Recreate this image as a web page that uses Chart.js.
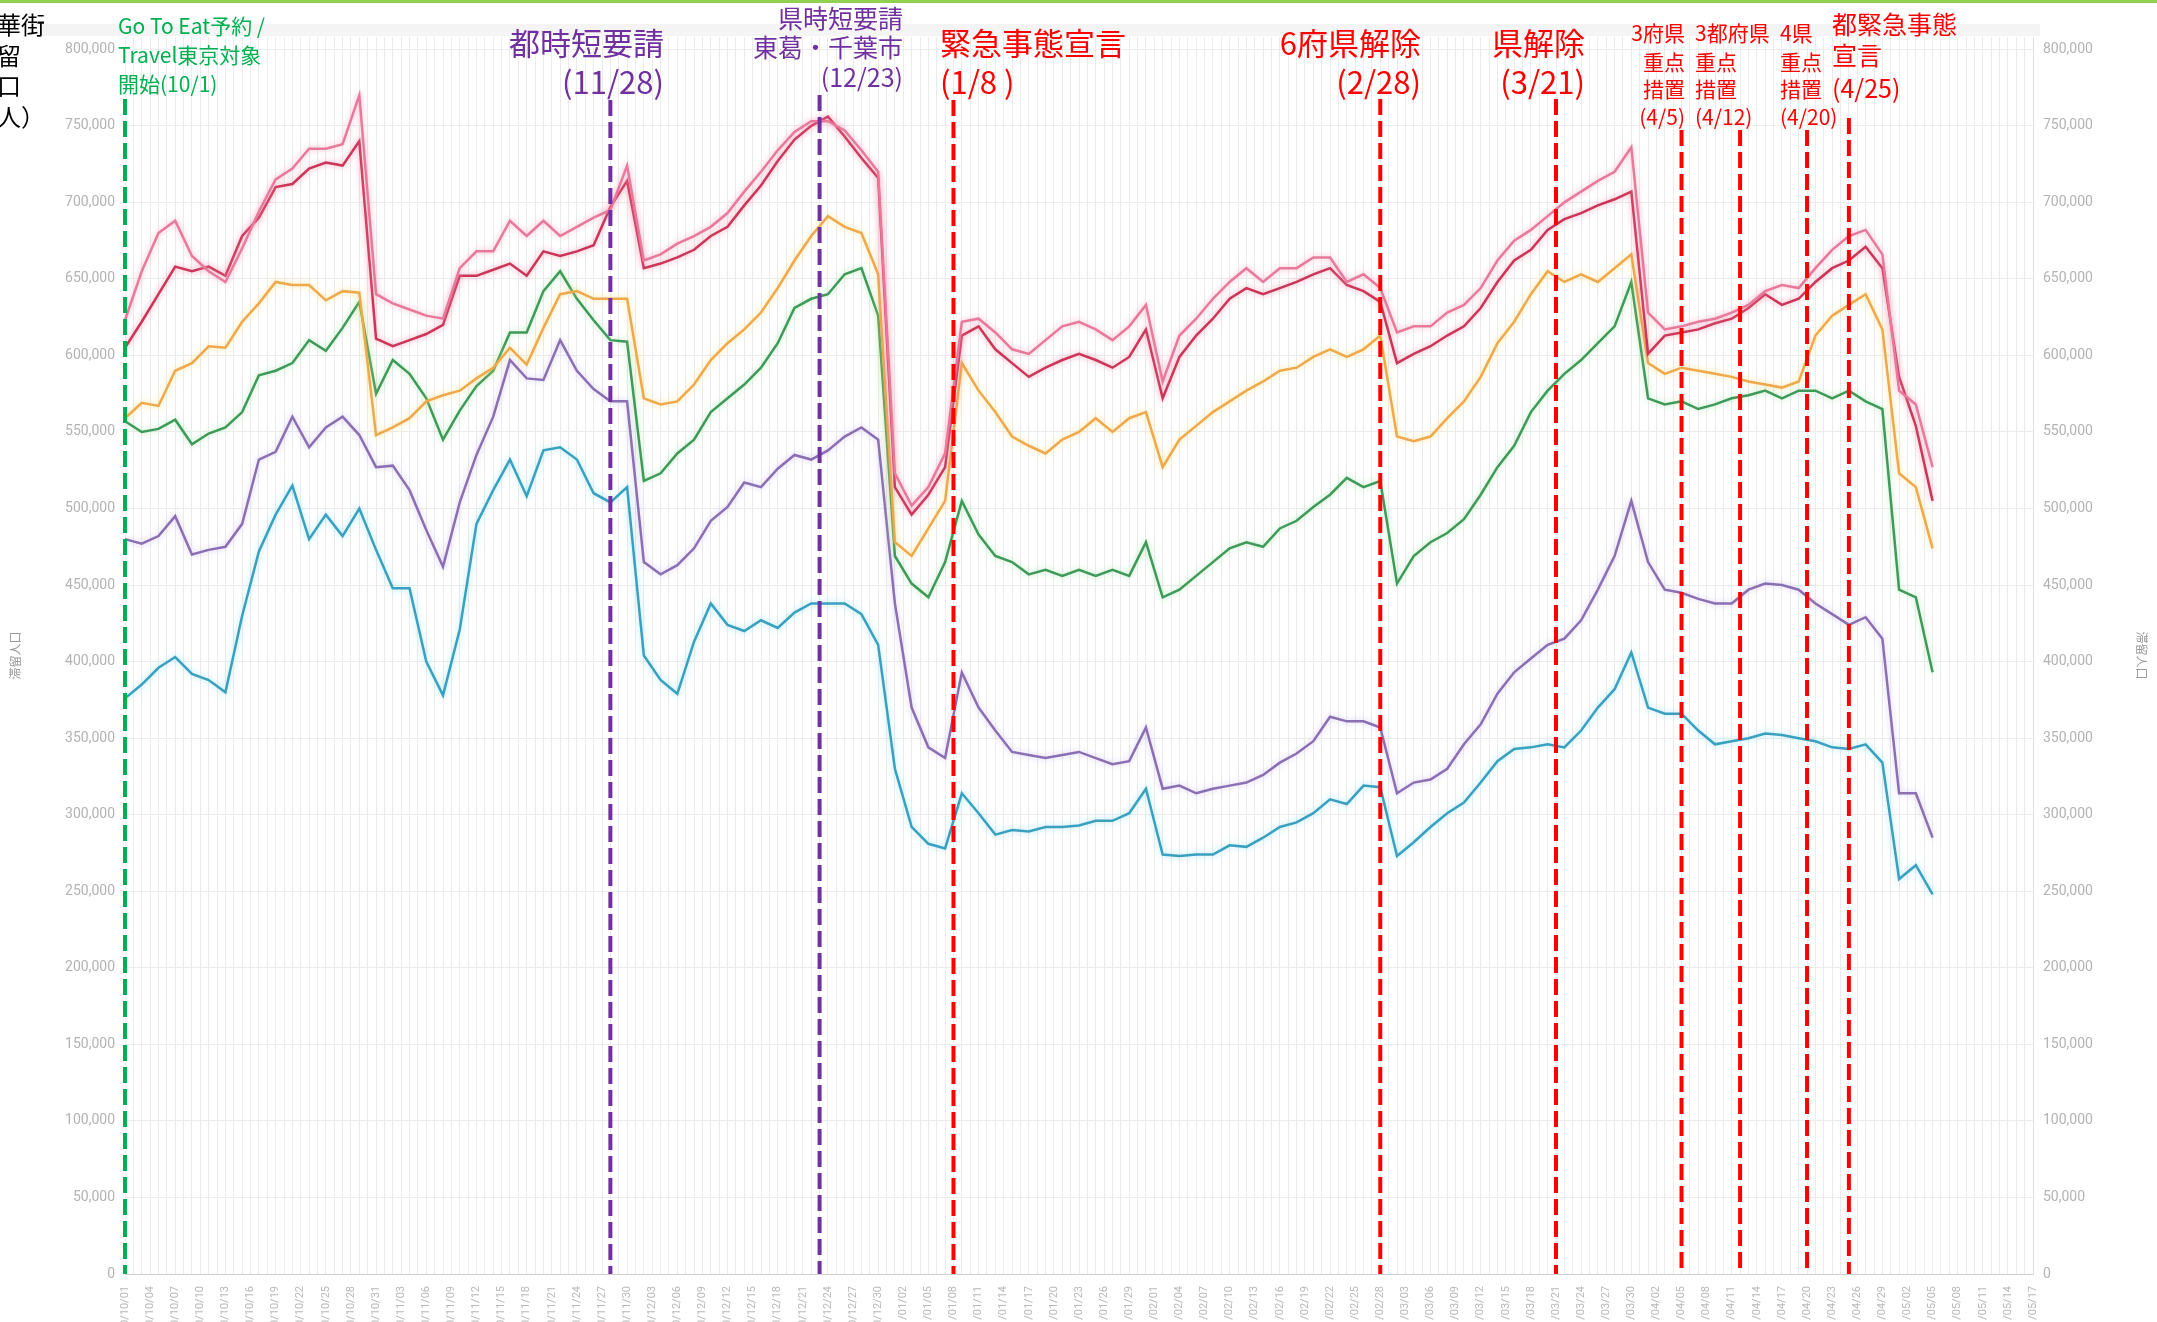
<!DOCTYPE html>
<html lang="ja">
<head>
<meta charset="UTF-8">
<title>中華街 滞留人口</title>
<script src="https://cdn.jsdelivr.net/npm/chart.js"></script>
<style>
  html, body { margin: 0; padding: 0; background: #fff; overflow: hidden; }
  canvas { display: block; }
</style>
</head>
<body>
<canvas id="myChart" width="2157" height="1322"></canvas>
<script>
// 日付ラベル 2020/10/01 〜 2021/05/17
const labels = [];
for (let d = new Date(Date.UTC(2020, 9, 1)); d <= new Date(Date.UTC(2021, 4, 17)); d.setUTCDate(d.getUTCDate() + 1)) {
  const mm = String(d.getUTCMonth() + 1).padStart(2, '0');
  const dd = String(d.getUTCDate()).padStart(2, '0');
  labels.push(d.getUTCFullYear() + '/' + mm + '/' + dd);
}
// 読み取りは2日おき（10/1 〜 5/5）
const sampleDates = labels.filter((_, i) => i % 2 === 0 && i <= 216);

// 目盛り（人）
const yTickValues = [0, 50000, 100000, 150000, 200000, 250000, 300000, 350000, 400000, 450000, 500000, 550000, 600000, 650000, 700000, 750000, 800000];

// 滞留人口（千人）
const pink = [623,655,680,688,665,655,648,670,694,715,722,735,735,738,770,640,634,630,626,624,657,668,668,688,678,688,678,684,690,695,724,
  662,666,673,678,684,693,707,720,734,746,753,753,747,734,720,523,502,514,536,622,624,615,604,601,610,619,622,617,610,619,633,583,613,624,637,648,657,648,657,657,664,664,648,653,644,615,619,619,628,633,644,662,675,682,691,700,707,714,720,736,628,617,619,622,624,628,633,642,646,644,657,669,678,682,666,577,568,527];
const red = [605,622,640,658,655,658,652,678,690,710,712,722,726,724,740,611,606,610,614,620,652,652,656,660,652,668,665,668,672,697,714,
  657,660,664,669,678,684,698,711,727,741,750,756,743,729,716,514,496,509,527,613,619,604,595,586,592,597,601,597,592,599,617,572,599,613,624,637,644,640,644,648,653,657,646,642,635,595,601,606,613,619,631,648,662,669,682,689,693,698,702,707,601,613,615,617,621,624,631,640,633,637,648,657,662,671,657,586,554,505];
const orange = [559,569,567,590,595,606,605,622,634,648,646,646,636,642,641,548,553,559,570,574,577,585,592,605,594,618,640,642,637,637,637,
  572,568,570,581,597,608,617,628,644,662,678,691,684,680,653,478,469,487,505,595,577,563,547,541,536,545,550,559,550,559,563,527,545,554,563,570,577,583,590,592,599,604,599,604,613,547,544,547,559,570,586,608,622,640,655,648,653,648,657,666,595,588,592,590,588,586,583,581,579,583,613,626,633,640,617,523,514,474];
const green = [557,550,552,558,542,549,553,563,587,590,595,610,603,618,635,575,597,588,572,545,564,580,590,615,615,642,655,637,623,610,609,
  518,523,536,545,563,572,581,592,608,631,637,640,653,657,626,469,451,442,465,505,483,469,465,457,460,456,460,456,460,456,478,442,447,456,465,474,478,475,487,492,501,509,520,514,518,451,469,478,484,493,509,527,541,563,577,588,597,608,619,648,572,568,570,565,568,572,574,577,572,577,577,572,577,570,565,447,442,393];
const purple = [480,477,482,495,470,473,475,490,532,537,560,540,553,560,548,527,528,512,486,462,504,535,560,597,585,584,610,590,578,570,570,
  465,457,463,474,492,501,517,514,526,535,532,538,547,553,545,438,370,344,337,393,370,355,341,339,337,339,341,337,333,335,357,317,319,314,317,319,321,326,334,340,348,364,361,361,357,314,321,323,330,346,359,379,393,402,411,415,427,447,469,505,465,447,445,441,438,438,447,451,450,447,438,431,424,429,415,314,314,285];
const teal = [376,385,396,403,392,388,380,430,472,496,515,480,496,482,500,473,448,448,400,378,421,490,512,532,508,538,540,532,510,504,514,
  404,388,379,413,438,424,420,427,422,432,438,438,438,431,411,330,292,281,278,314,301,287,290,289,292,292,293,296,296,301,317,274,273,274,274,280,279,285,292,295,301,310,307,319,318,273,282,292,301,308,321,335,343,344,346,344,355,370,382,406,370,366,366,355,346,348,350,353,352,350,348,344,343,346,334,258,267,248];

// 施策の日付
const eventDates = ['2020/10/01', '2020/11/28', '2020/12/23', '2021/01/08', '2021/02/28', '2021/03/21', '2021/04/05', '2021/04/12', '2021/04/20', '2021/04/25'];
const eventColors = ['#00b050', '#7030a0', '#7030a0', '#ff0000', '#ff0000', '#ff0000', '#ff0000', '#ff0000', '#ff0000', '#ff0000'];
const eventTops = [99, 100, 95, 100, 99, 99, 130, 130, 130, 118];

const notes = [
  { lines: ['Go To Eat予約 /', 'Travel東京対象', '開始(10/1)'], color: '#00b050', size: 21, x: 118, ys: [26, 55, 84], align: 'left' },
  { lines: ['都時短要請', '(11/28)'], color: '#7030a0', size: 31, x: 664, ys: [43, 82], align: 'right' },
  { lines: ['県時短要請', '東葛・千葉市', '(12/23)'], color: '#7030a0', size: 25, x: 903, ys: [18, 47, 77], align: 'right' },
  { lines: ['緊急事態宣言', '(1/8 )'], color: '#ff0000', size: 31, x: 940, ys: [43, 82], align: 'left' },
  { lines: ['6府県解除', '(2/28)'], color: '#ff0000', size: 31, x: 1421, ys: [43, 82], align: 'right' },
  { lines: ['県解除', '(3/21)'], color: '#ff0000', size: 31, x: 1585, ys: [43, 82], align: 'right' },
  { lines: ['3府県', '重点', '措置', '(4/5)'], color: '#ff0000', size: 21, x: 1685, ys: [33, 62, 89, 117], align: 'right' },
  { lines: ['3都府県', '重点', '措置', '(4/12)'], color: '#ff0000', size: 21, x: 1695, ys: [33, 62, 89, 117], align: 'left' },
  { lines: ['4県', '重点', '措置', '(4/20)'], color: '#ff0000', size: 21, x: 1780, ys: [33, 62, 89, 117], align: 'left' },
  { lines: ['都緊急事態', '宣言', '(4/25)'], color: '#ff0000', size: 25, x: 1832, ys: [24, 55, 88], align: 'left' }
];

const JP = '"Noto Sans CJK JP", "Noto Sans", sans-serif';

function series(name, values, color, glow) {
  return {
    label: name,
    data: values.map((v, i) => ({ x: sampleDates[i], y: v * 1000 })),
    borderColor: color,
    glowColor: glow,
    borderWidth: 2.5,
    pointRadius: 0,
    tension: 0,
    fill: false
  };
}

const glowPlugin = {
  id: 'glowPlugin',
  beforeDatasetDraw(chart, args) {
    const ds = chart.data.datasets[args.index];
    chart.ctx.save();
    chart.ctx.shadowColor = ds.glowColor;
    chart.ctx.shadowBlur = 6;
  },
  afterDatasetDraw(chart) {
    chart.ctx.restore();
  }
};

const eventPlugin = {
  id: 'eventPlugin',
  beforeDraw(chart) {
    const ctx = chart.ctx;
    ctx.save();
    ctx.fillStyle = '#ffffff';
    ctx.fillRect(0, 0, chart.width, chart.height);
    ctx.fillStyle = '#92d050';
    ctx.fillRect(0, 0, chart.width, 3);
    ctx.fillStyle = '#f4f4f4';
    ctx.fillRect(40, 24, 2000, 12);
    ctx.restore();
  },
  afterDatasetsDraw(chart) {
    const { ctx, scales: { x, y } } = chart;
    ctx.save();
    ctx.lineWidth = 4;
    ctx.setLineDash([16, 6]);
    eventDates.forEach((d, i) => {
      const px = x.getPixelForValue(labels.indexOf(d));
      ctx.strokeStyle = eventColors[i];
      ctx.beginPath();
      ctx.moveTo(px, eventTops[i]);
      ctx.lineTo(px, y.bottom);
      ctx.stroke();
    });
    ctx.restore();
  },
  afterDraw(chart) {
    const ctx = chart.ctx;
    ctx.save();
    ctx.textBaseline = 'middle';
    notes.forEach(n => {
      ctx.fillStyle = n.color;
      ctx.font = n.size + 'px ' + JP;
      ctx.textAlign = n.align;
      n.lines.forEach((t, i) => ctx.fillText(t, n.x, n.ys[i]));
    });
    // 左上の見出し（左端で切れている）
    ctx.fillStyle = '#000';
    ctx.font = '24px ' + JP;
    ctx.textAlign = 'left';
    ['中華街', '滞留', '人口', '（人）'].forEach((t, i) => ctx.fillText(t, -27, [25, 56, 86, 117][i]));
    ctx.restore();
  }
};

const yTicks = {
  color: '#b3b3b3',
  font: { size: 14, family: 'Roboto' },
  padding: 10,
  callback: v => v.toLocaleString('en-US')
};
const setYTicks = s => { s.ticks = yTickValues.map(v => ({ value: v })); };

const config = {
  type: 'line',
  data: {
    labels: labels,
    datasets: [
      series('系列1', pink, '#e8799a', 'rgba(245,160,190,0.8)'),
      series('系列2', red, '#cc3558', 'rgba(235,120,150,0.7)'),
      series('系列3', orange, '#efa84c', 'rgba(250,220,120,0.8)'),
      series('系列4', green, '#3f9a5a', 'rgba(160,230,170,0.8)'),
      series('系列5', purple, '#8a70b3', 'rgba(200,185,235,0.8)'),
      series('系列6', teal, '#3aa0bf', 'rgba(140,225,245,0.8)')
    ]
  },
  options: {
    responsive: false,
    animation: false,
    layout: { padding: { top: 37, left: 0, right: 0, bottom: 0 } },
    plugins: {
      legend: { display: false },
      tooltip: { enabled: false }
    },
    scales: {
      x: {
        type: 'category',
        offset: false,
        grid: { color: 'rgba(0,0,0,0.08)', drawTicks: false },
        border: { display: true, color: '#cfcfcf' },
        ticks: {
          autoSkip: false,
          maxRotation: 90,
          minRotation: 90,
          padding: 12,
          color: '#b8b8b8',
          font: { size: 11, family: 'Roboto' },
          callback: (v, i) => (i % 3 === 0 ? labels[i] : '')
        },
        afterFit: s => { s.height = 48; }
      },
      y: {
        position: 'left',
        min: 0,
        max: 808000,
        grid: { color: '#ececec', drawTicks: false },
        border: { display: false },
        ticks: yTicks,
        afterBuildTicks: setYTicks,
        title: { display: true, text: '滞留人口', color: '#9a9a9a', font: { size: 12, family: JP }, padding: { top: 8 } },
        afterFit: s => { s.width = 125; }
      },
      y2: {
        position: 'right',
        min: 0,
        max: 808000,
        grid: { drawOnChartArea: false, drawTicks: false },
        border: { display: true, color: '#e0e0e0' },
        ticks: yTicks,
        afterBuildTicks: setYTicks,
        title: { display: true, text: '滞留人口', color: '#9a9a9a', font: { size: 12, family: JP }, padding: { top: 8 } },
        afterFit: s => { s.width = 124; }
      }
    }
  },
  plugins: [glowPlugin, eventPlugin]
};

new Chart(document.getElementById('myChart').getContext('2d'), config);
</script>
</body>
</html>
